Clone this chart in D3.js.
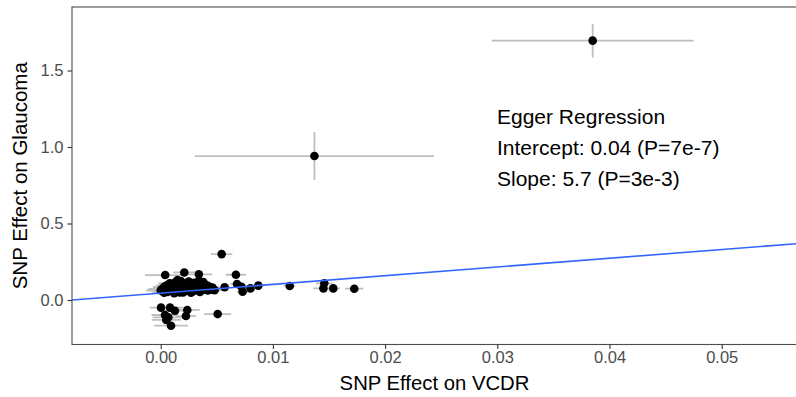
<!DOCTYPE html>
<html>
<head>
<meta charset="utf-8">
<script src="https://cdn.jsdelivr.net/npm/d3@7"></script>
<style>
  html, body { margin: 0; padding: 0; background: #fff; }
  svg { display: block; }
  text { font-family: "Liberation Sans", Arial, Helvetica, sans-serif; }
</style>
</head>
<body>
<svg id="chart" width="796" height="397"></svg>
<script>
// ---- Data ----
// SNP effect on VCDR (x), SNP effect on Glaucoma (y), with standard errors
const snpX = [
  0.0385, 0.0137,
  0.00543, 0.0004, 0.0021, 0.0034, 0.0067,
  0.0057, 0.0068, 0.0072, 0.0073, 0.0080, 0.0087, 0.0115,
  0.01458, 0.0145, 0.01538, 0.01725,
  0.00003, 0.00083, 0.00127, 0.00237, 0.00225, 0.00068, 0.00092, 0.0005, 0.00038, 0.00508,
  0.0001, 0.0002, 0.0003, 0.0004, 0.0005, 0.0006, 0.0007, 0.0008, 0.0009, 0.0010,
  0.0011, 0.0012, 0.0013, 0.0014, 0.0015, 0.0016, 0.0017, 0.0018, 0.0019, 0.0020,
  0.0021, 0.0022, 0.0023, 0.0024, 0.0025, 0.0026, 0.0027, 0.0028, 0.0029, 0.0030,
  0.0031, 0.0032, 0.0033, 0.0034, 0.0035, 0.0036, 0.0037, 0.0038, 0.0039, 0.0040,
  0.0041, 0.0042, 0.0043, 0.0044, 0.0045, 0.0046, 0.0047, 0.0048,
  0.0003, 0.0012, 0.0020, 0.0027, 0.0035, 0.0008, 0.0015, 0.0024, 0.0031, 0.0038,
  0.0000, 0.0017, 0.0029, 0.0042
];
const snpY = [
  1.695, 0.941,
  0.300, 0.163, 0.180, 0.168, 0.165,
  0.083, 0.105, 0.087, 0.054, 0.076, 0.094, 0.092,
  0.109, 0.076, 0.076, 0.074,
  -0.050, -0.050, -0.070, -0.065, -0.105, -0.113, -0.168, -0.130, -0.098, -0.092,
  0.072, 0.058, 0.085, 0.064, 0.095, 0.052, 0.078, 0.068, 0.102, 0.060,
  0.088, 0.074, 0.115, 0.055, 0.082, 0.096, 0.066, 0.124, 0.071, 0.090,
  0.058, 0.108, 0.079, 0.063, 0.120, 0.086, 0.070, 0.099, 0.057, 0.112,
  0.081, 0.066, 0.093, 0.126, 0.075, 0.060, 0.104, 0.084, 0.069, 0.097,
  0.078, 0.062, 0.088, 0.073, 0.067, 0.082, 0.071, 0.064,
  0.048, 0.045, 0.050, 0.047, 0.052, 0.110, 0.130, 0.095, 0.105, 0.118,
  0.062, 0.050, 0.088, 0.092
];
const seX = [
  0.0090, 0.01065,
  0.00095, 0.0018, 0.0010, 0.0012, 0.0009,
  0.0005, 0.0006, 0.0007, 0.0005, 0.0006, 0.0005, 0.0005,
  0.00075, 0.0009, 0.0006, 0.0008,
  0.0010, 0.0012, 0.0010, 0.0011, 0.0009, 0.0014, 0.0015, 0.0013, 0.0012, 0.0012,
  0.0012, 0.0008, 0.0010, 0.0006, 0.0009, 0.0007, 0.0011, 0.0005, 0.0008, 0.0010,
  0.0006, 0.0009, 0.0007, 0.0011, 0.0005, 0.0008, 0.0010, 0.0006, 0.0009, 0.0007,
  0.0011, 0.0005, 0.0008, 0.0010, 0.0006, 0.0009, 0.0007, 0.0011, 0.0005, 0.0008,
  0.0010, 0.0006, 0.0009, 0.0007, 0.0011, 0.0005, 0.0008, 0.0010, 0.0006, 0.0009,
  0.0007, 0.0011, 0.0005, 0.0008, 0.0010, 0.0006, 0.0009, 0.0007,
  0.0011, 0.0009, 0.0007, 0.0008, 0.0006, 0.0010, 0.0008, 0.0007, 0.0009, 0.0006,
  0.0013, 0.0008, 0.0007, 0.0006
];
const seY = [
  0.110, 0.157,
  0.020, 0.015, 0.015, 0.015, 0.015,
  0.012, 0.012, 0.012, 0.012, 0.012, 0.012, 0.012,
  0.012, 0.012, 0.012, 0.012,
  0.015, 0.015, 0.015, 0.015, 0.015, 0.015, 0.015, 0.015, 0.015, 0.012,
  0.015, 0.012, 0.018, 0.010, 0.015, 0.012, 0.018, 0.010, 0.015, 0.012,
  0.018, 0.010, 0.015, 0.012, 0.018, 0.010, 0.015, 0.012, 0.018, 0.010,
  0.015, 0.012, 0.018, 0.010, 0.015, 0.012, 0.018, 0.010, 0.015, 0.012,
  0.018, 0.010, 0.015, 0.012, 0.018, 0.010, 0.015, 0.012, 0.018, 0.010,
  0.015, 0.012, 0.018, 0.010, 0.015, 0.012, 0.018, 0.010,
  0.012, 0.012, 0.012, 0.012, 0.012, 0.012, 0.012, 0.012, 0.012, 0.012,
  0.012, 0.012, 0.012, 0.012
];
// Egger regression
const eggerIntercept = 0.045;
const eggerSlope = 5.7;
const annotationLines = ["Egger Regression", "Intercept: 0.04 (P=7e-7)", "Slope: 5.7 (P=3e-3)"];
// Axes
const xDomain = [-0.007906, 0.05671];
const yDomain = [-0.2908, 1.915];
const xTicks = [0, 0.01, 0.02, 0.03, 0.04, 0.05];
const yTicks = [0, 0.5, 1.0, 1.5];
const xTitle = "SNP Effect on VCDR";
const yTitle = "SNP Effect on Glaucoma";

// ---- Drawing ----
const svg = d3.select("#chart");
const panel = { left: 72, right: 797, top: 7, bottom: 344.5 };

const x = d3.scaleLinear().domain(xDomain).range([panel.left, panel.right]);
const y = d3.scaleLinear().domain(yDomain).range([panel.bottom, panel.top]);

svg.append("rect").attr("width", 796).attr("height", 397).attr("fill", "#fff");

svg.append("defs").append("clipPath").attr("id", "clip")
  .append("rect")
  .attr("x", panel.left).attr("y", panel.top)
  .attr("width", panel.right - panel.left).attr("height", panel.bottom - panel.top);

const data = snpX.map((v, i) => ({ x: v, y: snpY[i], sx: seX[i], sy: seY[i] }));

const plot = svg.append("g").attr("clip-path", "url(#clip)");

// error bars
const eb = plot.append("g").attr("stroke", "#bebebe").attr("stroke-width", 1.8);
eb.selectAll("line.h").data(data).join("line").attr("class", "h")
  .attr("x1", d => x(d.x - d.sx)).attr("x2", d => x(d.x + d.sx))
  .attr("y1", d => y(d.y)).attr("y2", d => y(d.y));
eb.selectAll("line.v").data(data).join("line").attr("class", "v")
  .attr("x1", d => x(d.x)).attr("x2", d => x(d.x))
  .attr("y1", d => y(d.y - d.sy)).attr("y2", d => y(d.y + d.sy));

// points
plot.append("g").selectAll("circle").data(data).join("circle")
  .attr("cx", d => x(d.x)).attr("cy", d => y(d.y)).attr("r", 4.3)
  .attr("fill", "#000");

// regression line
plot.append("line")
  .attr("x1", x(xDomain[0])).attr("y1", y(eggerIntercept + eggerSlope * xDomain[0]))
  .attr("x2", x(xDomain[1])).attr("y2", y(eggerIntercept + eggerSlope * xDomain[1]))
  .attr("stroke", "#3366FF").attr("stroke-width", 1.6);

// panel border
svg.append("rect")
  .attr("x", panel.left).attr("y", panel.top)
  .attr("width", panel.right - panel.left).attr("height", panel.bottom - panel.top)
  .attr("fill", "none").attr("stroke", "#4d4d4d").attr("stroke-width", 1.1);

// axes
const xAxis = d3.axisBottom(x).tickValues(xTicks).tickFormat(d3.format(".2f"))
  .tickSize(4.5).tickPadding(2);
const gx = svg.append("g").attr("transform", `translate(0,${panel.bottom})`).call(xAxis);
gx.select(".domain").remove();
gx.selectAll(".tick line").attr("stroke", "#333").attr("stroke-width", 1.1);
gx.selectAll(".tick text").attr("fill", "#4d4d4d").attr("font-size", 16.5)
  .attr("font-family", "Liberation Sans, Arial, sans-serif");

const yAxis = d3.axisLeft(y).tickValues(yTicks).tickFormat(d3.format(".1f"))
  .tickSize(4.5).tickPadding(4);
const gy = svg.append("g").attr("transform", `translate(${panel.left},0)`).call(yAxis);
gy.select(".domain").remove();
gy.selectAll(".tick line").attr("stroke", "#333").attr("stroke-width", 1.1);
gy.selectAll(".tick text").attr("fill", "#4d4d4d").attr("font-size", 16.5)
  .attr("font-family", "Liberation Sans, Arial, sans-serif");

// axis titles
svg.append("text")
  .attr("x", (panel.left + panel.right) / 2).attr("y", 390)
  .attr("text-anchor", "middle").attr("font-size", 20.3).attr("fill", "#000")
  .text(xTitle);
svg.append("text")
  .attr("transform", `translate(27,${(panel.top + panel.bottom) / 2}) rotate(-90)`)
  .attr("text-anchor", "middle").attr("font-size", 20.5).attr("fill", "#000")
  .text(yTitle);

// annotation
svg.append("g").selectAll("text").data(annotationLines).join("text")
  .attr("x", 497).attr("y", (d, i) => 124 + i * 31)
  .attr("font-size", 21).attr("fill", "#000")
  .text(d => d);
</script>
</body>
</html>
